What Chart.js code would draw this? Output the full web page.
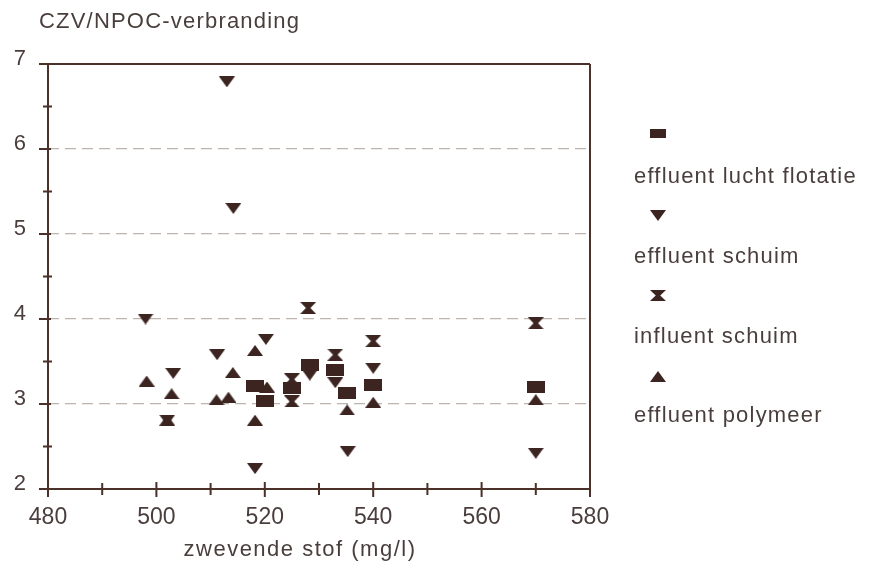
<!DOCTYPE html>
<html>
<head>
<meta charset="utf-8">
<script src="https://cdn.jsdelivr.net/npm/chart.js@4/dist/chart.umd.min.js"></script>
<style>
  html, body { margin: 0; padding: 0; background: #fff; }
  #wrap { position: relative; width: 877px; height: 571px; overflow: hidden; }
  #chart { position: absolute; left: 0; top: 0; }
  .txt { position: absolute; font-family: "Liberation Sans", Arial, sans-serif; color: #4a3e3d; white-space: nowrap; letter-spacing: 1.2px; }
  .leg-mark { position: absolute; }
</style>
</head>
<body>
<div id="wrap">
  <canvas id="chart" width="877" height="571"></canvas>
  <div class="txt" id="ytitle" style="left:39px; top:8px; font-size:22px;">CZV/NPOC-verbranding</div>
  <div class="txt" id="xtitle" style="left:300px; top:536px; font-size:22px; letter-spacing:1.5px; transform:translateX(-50%);">zwevende stof (mg/l)</div>
  <div id="legend"></div>
</div>
<script>
// categories (legend order)
const categories = ['effluent lucht flotatie', 'effluent schuim', 'influent schuim', 'effluent polymeer'];

// effluent lucht flotatie (filled rectangle)
const flotatieX = [518.2, 520.0, 525.0, 528.3, 533.0, 535.2, 540.0, 570.0];
const flotatieY = [3.21, 3.03, 3.19, 3.46, 3.40, 3.13, 3.22, 3.20];

// effluent schuim (down triangle)
const schuimX = [498.0, 503.1, 502.0, 511.2, 513.0, 514.2, 520.2, 518.2, 528.3, 533.0, 535.3, 540.0, 570.0];
const schuimY = [4.00, 3.36, 2.81, 3.58, 6.79, 5.30, 3.76, 2.24, 3.34, 3.25, 2.44, 3.42, 2.42];

// influent schuim (hourglass)
const influentX = [525.0, 525.0, 528.0, 533.0, 540.0, 570.0];
const influentY = [3.29, 3.03, 4.13, 3.58, 3.74, 3.95];

// effluent polymeer (up triangle)
const polymeerX = [498.2, 502.8, 502.0, 511.1, 513.3, 514.1, 518.2, 520.4, 518.2, 535.2, 540.0, 570.0];
const polymeerY = [3.27, 3.12, 2.81, 3.05, 3.08, 3.37, 3.63, 3.20, 2.81, 2.93, 3.02, 3.05];

// axis ranges / tick labels
const xMin = 480, xMax = 580, xStep = 20;
const yMin = 2, yMax = 7, yStep = 1;

const ink = '#3c2420';
const axisInk = '#4b3129';
const textInk = '#4a3e3d';

// marker images used as pointStyle
function makeMarker(kind, w, h) {
  const c = document.createElement('canvas');
  c.width = w; c.height = h;
  const g = c.getContext('2d');
  g.fillStyle = ink;
  g.beginPath();
  if (kind === 'rect') {
    g.rect(0, 0, w, h);
  } else if (kind === 'down') {
    g.moveTo(0, 0); g.lineTo(w, 0); g.lineTo(w / 2, h);
  } else if (kind === 'up') {
    g.moveTo(w / 2, 0); g.lineTo(w, h); g.lineTo(0, h);
  } else if (kind === 'hour') {
    g.moveTo(0, 0); g.lineTo(w, 0); g.lineTo(w * 0.64, h / 2);
    g.lineTo(w, h); g.lineTo(0, h); g.lineTo(w * 0.36, h / 2);
  }
  g.closePath();
  g.fill();
  return c;
}

const markers = [
  makeMarker('rect', 18, 12),
  makeMarker('down', 16, 11),
  makeMarker('hour', 16, 12),
  makeMarker('up', 16, 11)
];

const pts = (xs, ys) => xs.map((x, i) => ({ x: x, y: ys[i] }));
const seriesX = [flotatieX, schuimX, influentX, polymeerX];
const seriesY = [flotatieY, schuimY, influentY, polymeerY];

const datasets = categories.map((name, i) => ({
  label: name,
  data: pts(seriesX[i], seriesY[i]),
  pointStyle: markers[i],
  backgroundColor: ink,
  borderColor: ink,
  showLine: false
}));

// draws the frame and the crossing tick marks from the chart's own scales
const frame = {
  id: 'frame',
  afterDraw(chart) {
    const g = chart.ctx;
    const xs = chart.scales.x, ys = chart.scales.y;
    const L = xs.getPixelForValue(xMin), R = xs.getPixelForValue(xMax);
    const T = ys.getPixelForValue(yMax), B = ys.getPixelForValue(yMin);
    g.save();
    g.strokeStyle = axisInk;
    g.lineWidth = 2;
    g.beginPath();
    g.moveTo(L - 9, T); g.lineTo(R, T);
    g.moveTo(L, T); g.lineTo(L, B + 5);
    g.moveTo(L - 9, B); g.lineTo(R, B);
    g.moveTo(R, T); g.lineTo(R, B + 8);
    for (let v = xMin; v <= xMax; v += 10) {
      const p = xs.getPixelForValue(v);
      const major = (v - xMin) % xStep === 0;
      g.moveTo(p, B - (major ? 7 : 6)); g.lineTo(p, B + (major ? 8 : 6));
    }
    for (let v = yMin + 0.5; v < yMax; v += 0.5) {
      const p = ys.getPixelForValue(v);
      const major = Number.isInteger(v);
      if (major) { g.moveTo(L - 9, p); g.lineTo(L + 3, p); }
      else { g.moveTo(L - 5, p); g.lineTo(L + 4, p); }
    }
    g.stroke();
    g.restore();
  }
};

new Chart(document.getElementById('chart'), {
  type: 'scatter',
  data: { datasets: datasets },
  options: {
    responsive: false,
    animation: false,
    events: [],
    layout: { padding: { left: 0, right: 287, top: 64, bottom: 0 } },
    plugins: { legend: { display: false }, tooltip: { enabled: false } },
    scales: {
      x: {
        type: 'linear', min: xMin, max: xMax,
        afterFit: s => { s.height = 82; },
        ticks: { stepSize: xStep, padding: 15, color: textInk, font: { family: 'Liberation Sans, Arial, sans-serif', size: 23 } },
        grid: { display: false, drawTicks: false },
        border: { display: false }
      },
      y: {
        type: 'linear', min: yMin, max: yMax,
        afterFit: s => { s.width = 48; },
        ticks: { stepSize: yStep, padding: 22, labelOffset: -5, color: textInk, font: { family: 'Liberation Sans, Arial, sans-serif', size: 22 } },
        grid: {
          drawTicks: false,
          lineWidth: 1.3,
          color: c => (c.tick && c.tick.value > yMin && c.tick.value < yMax) ? '#bdb4af' : 'rgba(0,0,0,0)'
        },
        border: { display: false, dash: [11, 6] }
      }
    }
  },
  plugins: [frame]
});

// legend: marker above its label
const legendPos = [
  { my: 133, ty: 163 },
  { my: 215, ty: 243 },
  { my: 295, ty: 323 },
  { my: 376, ty: 402 }
];
const legend = document.getElementById('legend');
categories.forEach((name, i) => {
  const m = makeMarker(['rect', 'down', 'hour', 'up'][i], 16, i === 0 ? 9 : 11);
  m.className = 'leg-mark';
  m.style.left = (658 - m.width / 2) + 'px';
  m.style.top = (legendPos[i].my - m.height / 2) + 'px';
  legend.appendChild(m);
  const t = document.createElement('div');
  t.className = 'txt';
  t.style.left = '634px';
  t.style.top = legendPos[i].ty + 'px';
  t.style.fontSize = '22px';
  t.textContent = name;
  legend.appendChild(t);
});
</script>
</body>
</html>
